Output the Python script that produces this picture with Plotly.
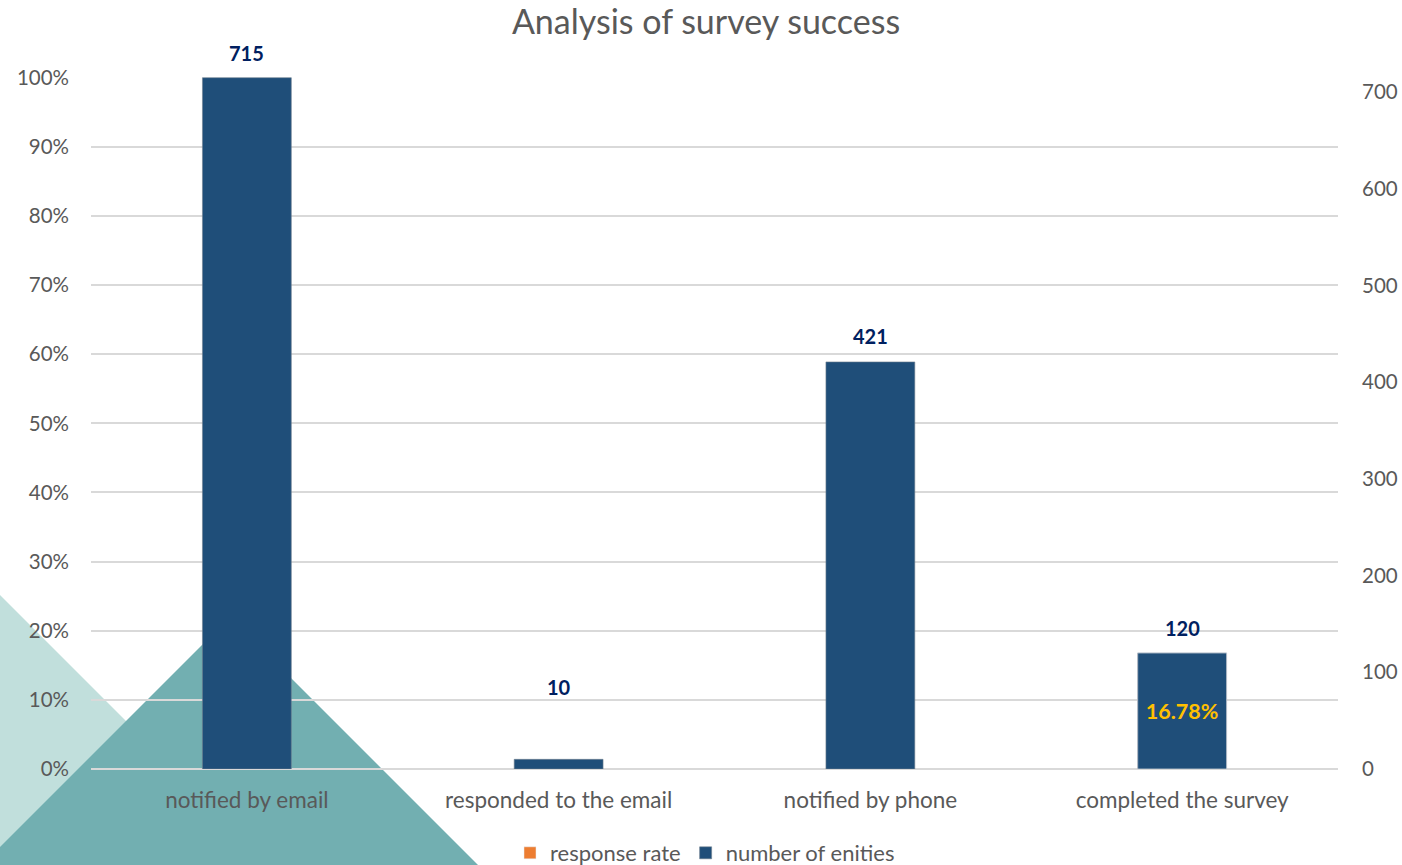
import plotly.graph_objects as go

categories = ["notified by email", "responded to the email", "notified by phone", "completed the survey"]
number_of_entities = [715, 10, 421, 120]
response_rate = [None, None, None, 0.1678]
pct_ticks = [0, 0.1, 0.2, 0.3, 0.4, 0.5, 0.6, 0.7, 0.8, 0.9, 1.0]
count_ticks = [0, 100, 200, 300, 400, 500, 600, 700]

# style: vertical offset (px) of each count label above its bar
label_shift = [25, 72, 26, 25]

FONT = "Lato"
GRAY = "#595959"
BAR_W = 0.285

W, H = 1402, 865
ML, MR, MT, MB = 91, 64, 77, 96
PW, PH = W - ML - MR, H - MT - MB
TOP = 1.001  # tiny headroom so the 100% gridline is drawn

fig = go.Figure()

# response rate (primary axis, sits behind the count bars)
fig.add_trace(go.Bar(
    x=categories, y=response_rate, name="response rate",
    marker=dict(color="#ed7d31"), width=BAR_W, yaxis="y",
    hoverinfo="skip",
))

# number of entities (secondary axis)
fig.add_trace(go.Bar(
    x=categories, y=number_of_entities, name="number of enities",
    marker=dict(color="#1f4e79", line=dict(color="#6f7f8f", width=0.6)),
    width=BAR_W, yaxis="y2",
    cliponaxis=False,
))

# response rate labels, drawn on top of the count bars
fig.add_trace(go.Bar(
    x=categories, y=response_rate, showlegend=False,
    marker=dict(color="rgba(0,0,0,0)"), width=BAR_W, yaxis="y3",
    text=[("%.2f%%" % (v * 100)) if v is not None else "" for v in response_rate],
    textposition="inside", insidetextanchor="middle",
    textfont=dict(family=FONT, size=21.5, color="#ffc000", weight="bold"),
    hoverinfo="skip",
))

# count labels above bars
annotations = [
    dict(x=c, y=v, xref="x", yref="y2", text=f"<b>{v}</b>", showarrow=False,
         yanchor="middle", yshift=s,
         font=dict(family=FONT, size=20, color="#002060"))
    for c, v, s in zip(categories, number_of_entities, label_shift)
]

# decorative triangles (pixel positions converted to plot-area paper coords)
def px(x, y):
    return (x - ML) / PW, (H - MB - y) / PH

def path(points):
    p = [px(x, y) for x, y in points]
    return "M " + " L ".join(f"{a:.5f},{b:.5f}" for a, b in p) + " Z"

shapes = [
    dict(type="path", xref="paper", yref="paper", layer="below",
         path=path([(0, 595), (270, 865), (0, 865)]),
         fillcolor="#c1dfdc", line=dict(width=0)),
    dict(type="path", xref="paper", yref="paper", layer="below",
         path=path([(0, 847), (230, 617), (478, 865), (0, 865)]),
         fillcolor="#72afb1", line=dict(width=0)),
]

fig.update_layout(
    width=W, height=H, autosize=False,
    margin=dict(l=ML, r=MR, t=MT, b=MB, autoexpand=False),
    paper_bgcolor="rgba(0,0,0,0)", plot_bgcolor="rgba(0,0,0,0)",
    barmode="overlay",
    title=dict(text="Analysis of survey success", x=(706 - ML) / PW, xref="paper",
               xanchor="center", y=1 - 22 / H, yanchor="middle",
               font=dict(family=FONT, size=34, color=GRAY)),
    font=dict(family=FONT, color=GRAY),
    xaxis=dict(tickfont=dict(size=22.5, color=GRAY), showgrid=False,
               showline=False, ticks="", ticklabelstandoff=15, automargin=False),
    yaxis=dict(range=[0, TOP], tickvals=pct_ticks, tickformat=".0%",
               tickfont=dict(size=20.5, color=GRAY), gridcolor="#d9d9d9",
               gridwidth=1.5, zeroline=True, zerolinecolor="#d9d9d9",
               zerolinewidth=1.5, showline=False, ticks="",
               ticklabelstandoff=21, automargin=False),
    yaxis2=dict(range=[0, 715 * TOP], tickvals=count_ticks, overlaying="y",
                side="right", showgrid=False, zeroline=False,
                tickfont=dict(size=20.5, color=GRAY), ticks="",
                ticklabelstandoff=23, automargin=False),
    yaxis3=dict(range=[0, TOP], overlaying="y", visible=False),
    legend=dict(orientation="h", x=(705 - ML) / PW, xanchor="center",
                y=(769 - 853) / PH, yanchor="middle",
                font=dict(size=22, color=GRAY),
                traceorder="normal", itemwidth=30),
    shapes=shapes,
    annotations=annotations,
    showlegend=True,
)

fig.write_html(
    "out.html",
    config={"responsive": False, "displayModeBar": False},
    post_script="document.body.style.margin='0';document.body.style.overflow='hidden';",
)
